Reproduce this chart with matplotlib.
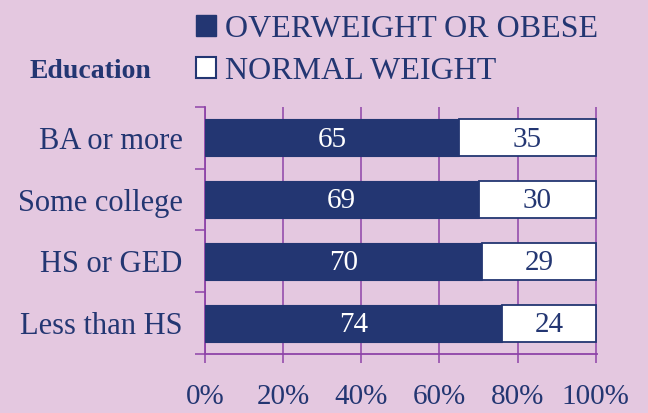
import matplotlib
matplotlib.use('Agg')
import matplotlib.pyplot as plt
from matplotlib.patches import Patch

categories = ['BA or more', 'Some college', 'HS or GED', 'Less than HS']
overweight = [65, 69, 70, 74]
normal = [35, 30, 29, 24]
xticks = [0, 20, 40, 60, 80, 100]
xlabels = ['0%', '20%', '40%', '60%', '80%', '100%']
legend_labels = ['OVERWEIGHT OR OBESE', 'NORMAL WEIGHT']

navy = '#233672'
bg = '#E4C8E0'
purple = '#8E44A8'

plt.rcParams['font.family'] = ['Liberation Serif', 'DejaVu Serif']

fig = plt.figure(figsize=(6.48, 4.13), dpi=100, facecolor=bg)
ax = fig.add_axes([205 / 648, 1 - 354 / 413, 392 / 648, 247 / 413])
ax.set_facecolor(bg)

y = list(range(len(categories)))
# the dark bar fills up to where the white bar starts
dark_w = [100 - n for n in normal]
ax.barh(y, dark_w, height=0.6, color=navy, edgecolor=navy, linewidth=0.8, zorder=3)
ax.barh(y, normal, left=dark_w, height=0.6, color='white', edgecolor=navy,
        linewidth=1.3, zorder=3)

for i in y:
    ax.text(dark_w[i] / 2, i + 0.03, str(overweight[i]), color='white', fontsize=21,
            ha='center', va='center', zorder=4)
    ax.text(dark_w[i] + normal[i] / 2, i + 0.03, str(normal[i]), color=navy, fontsize=21,
            ha='center', va='center', zorder=4)

ax.set_xlim(0, 100.3)
ax.set_ylim(len(categories) - 0.5, -0.5)

ax.set_xticks(xticks)
ax.set_xticklabels(xlabels)
ax.set_yticks(y)
ax.set_yticklabels(categories)
ax.set_yticks([i - 0.5 for i in range(len(categories) + 1)], minor=True)

ax.tick_params(axis='x', direction='out', length=6.5, width=1.1, color=purple,
               labelsize=21, labelcolor=navy, pad=15)
ax.tick_params(axis='y', which='major', length=0, labelsize=22, labelcolor=navy, pad=16)
ax.tick_params(axis='y', which='minor', direction='out', length=7.2, width=1.1, color=purple)

for s in ['top', 'right']:
    ax.spines[s].set_visible(False)
for s in ['left', 'bottom']:
    ax.spines[s].set_color(purple)
    ax.spines[s].set_linewidth(1.3)

ax.grid(axis='x', color=purple, linewidth=1.1, zorder=1)
ax.set_axisbelow(True)

handles = [Patch(facecolor=navy, edgecolor=navy),
           Patch(facecolor='white', edgecolor=navy, linewidth=1.5)]
fig.legend(handles, legend_labels, loc='upper left', bbox_to_anchor=(196 / 648, 1 - 15 / 413),
           frameon=False, fontsize=23, handlelength=0.62, handleheight=0.62,
           handletextpad=0.3, labelspacing=0.4, borderaxespad=0, borderpad=0,
           labelcolor=navy)

fig.text(30 / 648, 1 - 72 / 413, 'Education', fontsize=20, fontweight='bold',
         color=navy, ha='left', va='center')

fig.savefig('out.png', dpi=100, facecolor=bg)
